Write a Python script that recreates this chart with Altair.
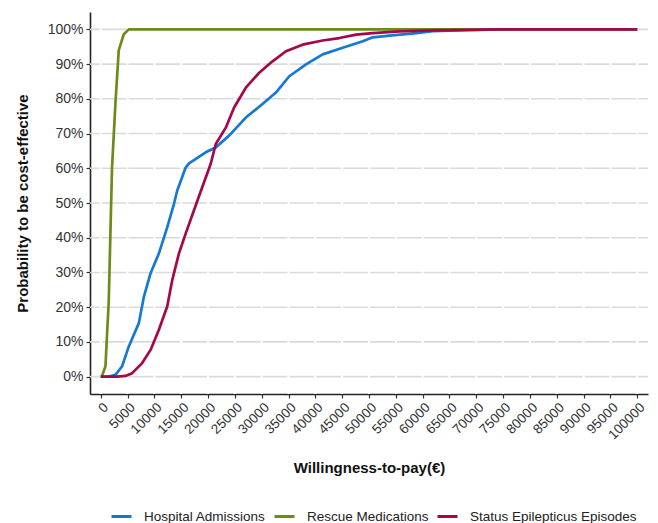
import altair as alt
import pandas as pd

series_names = ["Hospital Admissions", "Rescue Medications", "Status Epilepticus Episodes"]
series_colors = ["#1479D4", "#6C8B19", "#A4084B"]

hosp_wtp = [0, 1500, 2750, 3980, 5230, 7100, 8040, 9290, 10840, 12390, 13640, 14260, 15830,
            16450, 19570, 21440, 23920, 27040, 30150, 32650, 35140, 38260, 41360, 45100,
            48840, 50700, 53830, 58820, 61920, 68160, 74400, 100000]
hosp_prob = [0, 0, 0.5, 3, 8.7, 15.4, 23, 29.8, 35.5, 43, 49.7, 53.6, 60.2, 61.4, 64.6, 66,
             69.4, 74.6, 78.5, 81.8, 86.5, 89.9, 92.8, 94.7, 96.6, 97.7, 98.2, 98.9, 99.5,
             99.8, 100, 100]

rescue_wtp = [0, 190, 880, 1500, 2100, 2750, 3360, 4300, 5230, 100000]
rescue_prob = [0, 0, 3, 22, 60, 79, 94, 98.6, 100, 100]

status_wtp = [0, 3000, 4620, 5850, 7720, 9290, 10840, 12390, 13330, 14580, 15830, 17380,
              18930, 20500, 21440, 23310, 24860, 27040, 29530, 32020, 34520, 37620, 41360,
              44480, 47600, 50700, 55700, 61860, 74400, 100000]
status_prob = [0, 0, 0.2, 1, 3.9, 7.7, 13.5, 20.2, 27.8, 35.5, 41.2, 47.9, 54.6, 61.3, 67,
               71.7, 77.5, 83.2, 87.5, 90.8, 93.7, 95.6, 96.8, 97.5, 98.5, 98.9, 99.4, 99.7,
               100, 100]

x_ticks = list(range(0, 100001, 5000))
y_ticks = [i / 10 for i in range(11)]

rows = []
for name, xs, ys in zip(series_names,
                        [hosp_wtp, rescue_wtp, status_wtp],
                        [hosp_prob, rescue_prob, status_prob]):
    for x, y in zip(xs, ys):
        rows.append({"series": name, "wtp": x, "prob": y / 100})
df = pd.DataFrame(rows)

xscale = alt.Scale(domain=[-2000, 102000], nice=False, zero=False)
yscale = alt.Scale(domain=[-0.05, 1.05], nice=False, zero=False)

font = "Liberation Sans"

xaxis = alt.Axis(values=x_ticks, format="d", title="Willingness-to-pay(€)",
                 labelAngle=-45, labelAlign="right", labelBaseline="top",
                 labelFontSize=13.5, labelColor="#333333", labelFont=font,
                 labelPadding=2, labelFlush=False, labelOverlap=False,
                 tickColor="#333333", tickSize=4, tickWidth=1.2,
                 domainColor="#222222", domainWidth=1.6, grid=False,
                 titleFont=font, titleFontSize=15, titleFontWeight="bold",
                 titleColor="#111111", titleY=73, titleBaseline="middle")
yaxis = alt.Axis(values=y_ticks, format=".0%", title="Probability to be cost-effective",
                 labelFontSize=14, labelColor="#333333", labelFont=font,
                 labelPadding=3, tickColor="#333333", tickSize=4, tickWidth=1.2,
                 domainColor="#222222", domainWidth=1.6, grid=False,
                 titleFont=font, titleFontSize=15, titleFontWeight="bold",
                 titleColor="#111111", titleX=-68, titleY=191,
                 titleBaseline="middle", titleAlign="center", titleAngle=-90)

hgrid = alt.Chart(pd.DataFrame({"prob": y_ticks})).mark_rule(
    color="#DADADA", strokeWidth=1.6
).encode(y=alt.Y("prob:Q", scale=yscale, axis=yaxis))

vgrid = alt.Chart(pd.DataFrame({"wtp": x_ticks})).mark_rule(
    color="white", strokeWidth=2
).encode(x=alt.X("wtp:Q", scale=xscale, axis=xaxis))

lines = alt.Chart(df).mark_line(strokeWidth=2.7, strokeJoin="round", strokeCap="butt").encode(
    x=alt.X("wtp:Q", scale=xscale, axis=xaxis),
    y=alt.Y("prob:Q", scale=yscale, axis=yaxis),
    color=alt.Color("series:N",
                    scale=alt.Scale(domain=series_names, range=series_colors),
                    legend=alt.Legend(title=None, orient="none", direction="horizontal",
                                      legendX=20, legendY=493,
                                      symbolType="stroke", symbolSize=400,
                                      symbolStrokeWidth=3, labelFontSize=13.5,
                                      labelFont=font, labelColor="#222222",
                                      labelLimit=400,
                                      labelOffset=11, columnPadding=2)),
    detail="series:N",
)

chart = alt.layer(hgrid, vgrid, lines).properties(
    width=558, height=382,
    autosize=alt.AutoSizeParams(type="none"),
    padding={"left": 82, "top": 4, "right": 2, "bottom": 134},
).configure_view(stroke=None)

chart.save("out.html", embed_options={"renderer": "svg", "actions": False})
